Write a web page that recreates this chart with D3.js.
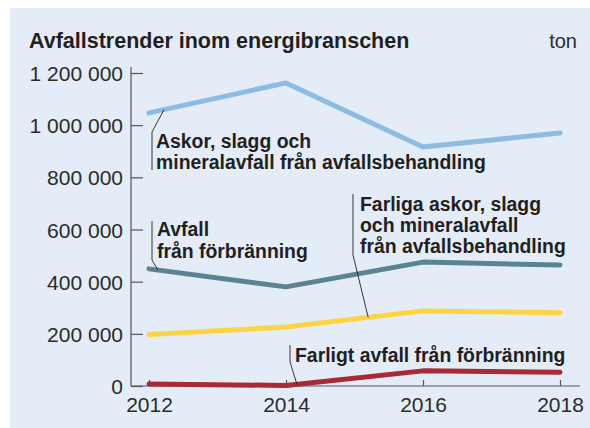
<!DOCTYPE html>
<html>
<head>
<meta charset="utf-8">
<script src="https://cdn.jsdelivr.net/npm/d3@7"></script>
<style>
  html, body { margin: 0; padding: 0; background: #fff; }
  svg { display: block; }
  .tick text { font-family: "Liberation Sans", Arial, sans-serif; fill: #2b2b2b; }
  .lbl { font-family: "Liberation Sans Narrow", "Liberation Sans", sans-serif; font-weight: bold; fill: #231f20; }
</style>
</head>
<body>
<div id="chart"></div>
<script>
// ---- data ----
const years = [2012, 2014, 2016, 2018];
const askorBehandling   = [1047000, 1162000, 916000, 970000];
const avfallForbranning = [449000, 380000, 475000, 464000];
const farligaAskor      = [197000, 226000, 288000, 281000];
const farligtForbranning = [8000, 2000, 58000, 53000];
const yTicks = [0, 200000, 400000, 600000, 800000, 1000000, 1200000];

const series = [
  { name: "askor", values: askorBehandling, color: "#8cbbe4" },
  { name: "avfall", values: avfallForbranning, color: "#5a8393" },
  { name: "farliga", values: farligaAskor, color: "#fdd443" },
  { name: "farligt", values: farligtForbranning, color: "#a72a35" }
];

// labels: text lines, left x, first baseline, line gap, leader path anchor (year on series)
const labels = [
  { lines: ["Askor, slagg och", "mineralavfall från avfallsbehandling"], x: 156, y: 148, gap: 21,
    series: 0, atYear: 2012.22, leader: [[152, 132], [152, 170]] },
  { lines: ["Avfall", "från förbränning"], x: 157, y: 236, gap: 22,
    series: 1, atYear: 2012.13, leader: [[152, 260], [152, 221]] },
  { lines: ["Farliga askor, slagg", "och mineralavfall", "från avfallsbehandling"], x: 360, y: 211, gap: 21,
    series: 2, atYear: 2015.2, leader: [[353, 255], [353, 194]] },
  { lines: ["Farligt avfall från förbränning"], x: 295, y: 362, gap: 21,
    series: 3, atYear: 2014.16, leader: [[290, 362], [290, 345]] }
];

const width = 590, height = 428;
const svg = d3.select("#chart").append("svg")
  .attr("width", width)
  .attr("height", height);

// panel background
svg.append("rect")
  .attr("x", 10).attr("y", 8)
  .attr("width", 580).attr("height", 420)
  .attr("fill", "#e4ecf7");

const x = d3.scaleLinear().domain([2012, 2018]).range([149, 560]);
const y = d3.scaleLinear().domain([0, 1200000]).range([386, 73]);

// title + unit
svg.append("text")
  .attr("class", "lbl")
  .attr("x", 29).attr("y", 48)
  .attr("font-size", 21.5)
  .text("Avfallstrender inom energibranschen");

svg.append("text")
  .attr("x", 577).attr("y", 48)
  .attr("text-anchor", "end")
  .attr("font-family", "Liberation Sans, Arial, sans-serif")
  .attr("font-size", 20)
  .attr("fill", "#2b2b2b")
  .text("ton");

// ---- axes ----
const fmt = v => d3.format(",")(v).replace(/,/g, " ");

const yAxis = d3.axisLeft(y)
  .tickValues(yTicks)
  .tickSize(-12)
  .tickPadding(8)
  .tickFormat(fmt);

const gy = svg.append("g").attr("transform", "translate(131,0)").call(yAxis);
gy.select(".domain").remove();
gy.selectAll(".tick line").attr("stroke", "#555").attr("stroke-width", 1.2);
gy.selectAll(".tick text").attr("font-size", 21).attr("dy", "0.36em");

const xAxis = d3.axisBottom(x)
  .tickValues(years)
  .tickSize(-6)
  .tickPadding(11)
  .tickFormat(d3.format("d"));

const gx = svg.append("g").attr("transform", "translate(0,386)").call(xAxis);
gx.select(".domain").remove();
gx.selectAll(".tick line").attr("stroke", "#555").attr("stroke-width", 1.2);
gx.selectAll(".tick text").attr("font-size", 21);

// axis lines
svg.append("line")
  .attr("x1", 131).attr("x2", 131)
  .attr("y1", y.range()[1] - 6).attr("y2", y.range()[0])
  .attr("stroke", "#555").attr("stroke-width", 1.2);
svg.append("line")
  .attr("x1", 131).attr("x2", x.range()[1] + 20)
  .attr("y1", y.range()[0]).attr("y2", y.range()[0])
  .attr("stroke", "#555").attr("stroke-width", 1.2);

// ---- lines ----
const line = d3.line()
  .x((d, i) => x(years[i]))
  .y(d => y(d));

svg.selectAll(".series")
  .data(series)
  .enter()
  .append("path")
  .attr("class", "series")
  .attr("d", d => line(d.values))
  .attr("fill", "none")
  .attr("stroke", d => d.color)
  .attr("stroke-width", 5)
  .attr("stroke-linecap", "round")
  .attr("stroke-linejoin", "round");

// ---- labels + leader lines ----
const interp = (vals, yr) => {
  const i = Math.min(Math.floor((yr - 2012) / 2), 2);
  const t = (yr - years[i]) / 2;
  return vals[i] + (vals[i + 1] - vals[i]) * t;
};

labels.forEach(l => {
  const s = series[l.series];
  const anchor = [x(l.atYear), y(interp(s.values, l.atYear))];
  const pts = [anchor, ...l.leader];
  svg.append("path")
    .attr("d", d3.line()(pts))
    .attr("fill", "none")
    .attr("stroke", "#231f20")
    .attr("stroke-width", 0.9);

  const t = svg.append("text")
    .attr("class", "lbl")
    .attr("font-size", 19.4);
  l.lines.forEach((str, i) => {
    t.append("tspan")
      .attr("x", l.x)
      .attr("y", l.y + i * l.gap)
      .text(str);
  });
});
</script>
</body>
</html>
